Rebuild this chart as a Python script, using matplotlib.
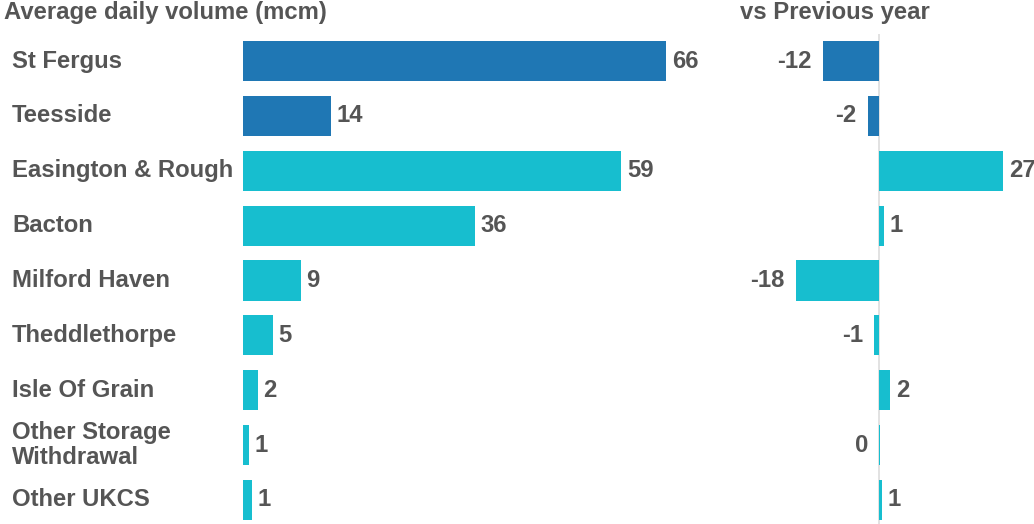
import numpy as np
import matplotlib.pyplot as plt
from matplotlib.transforms import blended_transform_factory

plt.rcParams['font.family'] = ['Liberation Sans', 'DejaVu Sans']

terminals = ['St Fergus', 'Teesside', 'Easington & Rough', 'Bacton', 'Milford Haven',
             'Theddlethorpe', 'Isle Of Grain', 'Other Storage\nWithdrawal', 'Other UKCS']
volume = [66.0, 13.7, 59.0, 36.2, 9.0, 4.6, 2.3, 0.9, 1.4]
change = [-12.0, -2.4, 26.6, 1.0, -17.8, -1.0, 2.4, 0.3, 0.6]
colors = ['#1f77b4', '#1f77b4'] + ['#17becf'] * 7

text_col = '#555555'
fs = 17.2
W, H = 1034, 524

fig = plt.figure(figsize=(W / 100, H / 100), dpi=100)

y = np.arange(len(terminals))
top_px, bot_px = 33.6, 527.4

# left panel: average daily volume
ax1 = fig.add_axes([243 / W, 1 - bot_px / H, 449 / W, (bot_px - top_px) / H])
ax1.barh(y, volume, height=0.73, color=colors)
ax1.set_xlim(0, 70)
ax1.set_ylim(len(terminals) - 0.5, -0.5)
ax1.axis('off')
for yi, v in zip(y, volume):
    ax1.annotate(f'{v:.0f}', (v, yi), xytext=(4, 0), textcoords='offset points',
                 va='center', ha='left', fontsize=fs, fontweight='bold', color=text_col)
lab_tr = blended_transform_factory(fig.transFigure, ax1.transData)
for yi, name in zip(y, terminals):
    ax1.text(12 / W, yi, name, transform=lab_tr,
             va='center', ha='left', fontsize=fs, fontweight='bold', color=text_col,
             linespacing=1.1)

# right panel: change vs previous year
ax2 = fig.add_axes([739 / W, 1 - bot_px / H, 280 / W, (bot_px - top_px) / H])
ax2.barh(y, change, height=0.73, color=colors)
ax2.set_xlim(-30, 30)
ax2.set_ylim(len(terminals) - 0.5, -0.5)
ax2.axis('off')
ax2.axvline(0, color='#dddddd', lw=1.2, zorder=0)
for yi, v in zip(y, change):
    if v < 0.5:
        ax2.annotate(f'{v:.0f}', (min(v, 0), yi), xytext=(-8, 0), textcoords='offset points',
                     va='center', ha='right', fontsize=fs, fontweight='bold', color=text_col)
    else:
        ax2.annotate(f'{v:.0f}', (v, yi), xytext=(4, 0), textcoords='offset points',
                     va='center', ha='left', fontsize=fs, fontweight='bold', color=text_col,
                     annotation_clip=False)

fig.text(4 / W, 1 - 13 / H, 'Average daily volume (mcm)', va='center', ha='left',
         fontsize=fs, fontweight='bold', color=text_col)
fig.text(740 / W, 1 - 13 / H, 'vs Previous year', va='center', ha='left',
         fontsize=fs, fontweight='bold', color=text_col)

fig.savefig('out.png', dpi=100)
